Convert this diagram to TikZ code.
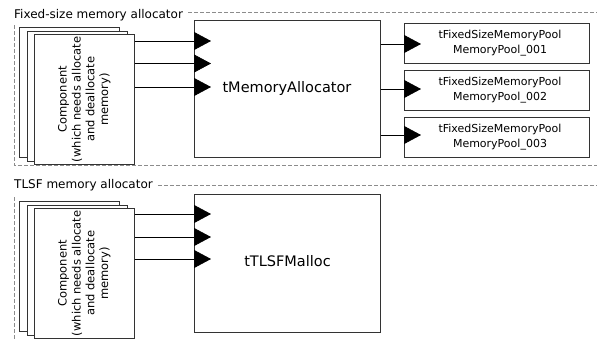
\documentclass[tikz,border=0pt]{standalone}
\usepackage{fontspec}
\setmainfont{DejaVu Sans}
\usetikzlibrary{arrows.meta}
\begin{document}
\begin{tikzpicture}[x=1pt,y=-1pt,
  frame/.style={draw=black!45,dash pattern=on 4pt off 2pt,line width=0.8pt},
  grplabel/.style={anchor=west,inner sep=0pt,font=\fontsize{12}{14}\selectfont},
  box/.style={draw=black!80,fill=white,line width=0.7pt,inner sep=0pt},
  port/.style={draw=black,line width=0.7pt,-{Triangle[length=17pt,width=18pt]}},
  comptext/.style={rotate=90,align=center,font=\fontsize{11.5}{13.8}\selectfont,inner sep=0pt},
  pooltext/.style={align=center,font=\fontsize{11}{15}\selectfont,inner sep=0pt},
  maintext/.style={font=\fontsize{14.5}{17}\selectfont,inner sep=0pt}
]
\useasboundingbox[fill=white] (0,0) rectangle (597,340);

% ---------- Fixed-size group ----------
\node[grplabel] (lab1) at (14,15) {Fixed-size memory allocator};
\coordinate (f1tr) at (597,12);
\coordinate (f1bl) at (14,165);
\coordinate (f1br) at (597,165);
\draw[frame] ([xshift=5pt]lab1.east |- f1tr) -- (f1tr);
\draw[frame] (14,25) -- (f1bl) -- (f1br);

\node[box,minimum width=100pt,minimum height=130pt,anchor=north west] (c1b) at (19,27) {};
\node[box,minimum width=100pt,minimum height=130pt,anchor=north west] (c1m) at (26.5,30.5) {};
\node[box,minimum width=100pt,minimum height=130pt,anchor=north west] (c1f) at (34,34) {};
\node[comptext] (c1t) at (c1f.center) {Component\\(which needs allocate\\and deallocate\\memory)};

\node[box,minimum width=186pt,minimum height=137pt,anchor=north west] (alloc) at (194,20) {};
\node[maintext] (alloct) at (287,88) {tMemoryAllocator};

\node[box,minimum width=185pt,minimum height=40pt,anchor=north west] (pool1) at (404,23) {};
\node[box,minimum width=185pt,minimum height=40pt,anchor=north west] (pool2) at (404,70) {};
\node[box,minimum width=185pt,minimum height=40pt,anchor=north west] (pool3) at (404,117) {};
\node[pooltext] (pt1) at (500,43) {tFixedSizeMemoryPool\\MemoryPool\_001};
\node[pooltext] (pt2) at (500,90) {tFixedSizeMemoryPool\\MemoryPool\_002};
\node[pooltext] (pt3) at (500,137) {tFixedSizeMemoryPool\\MemoryPool\_003};

\coordinate (a1) at (211,41);
\coordinate (a2) at (211,63.5);
\coordinate (a3) at (211,87);
\draw[port] (c1f.east |- a1) -- (a1);
\draw[port] (c1f.east |- a2) -- (a2);
\draw[port] (c1f.east |- a3) -- (a3);

\coordinate (q1) at (421,44);
\coordinate (q2) at (421,89);
\coordinate (q3) at (421,135);
\draw[port] (alloc.east |- q1) -- (q1);
\draw[port] (alloc.east |- q2) -- (q2);
\draw[port] (alloc.east |- q3) -- (q3);

% ---------- TLSF group ----------
\node[grplabel] (lab2) at (14,185) {TLSF memory allocator};
\coordinate (f2tr) at (597,185);
\coordinate (f2bl) at (14,340);
\draw[frame] ([xshift=5pt]lab2.east |- f2tr) -- (f2tr);
\draw[frame] (14,197) -- (f2bl);

\node[box,minimum width=100pt,minimum height=130pt,anchor=north west] (c2b) at (19,201) {};
\node[box,minimum width=100pt,minimum height=130pt,anchor=north west] (c2m) at (26.5,204.5) {};
\node[box,minimum width=100pt,minimum height=130pt,anchor=north west] (c2f) at (34,208) {};
\node[comptext] (c2t) at (c2f.center) {Component\\(which needs allocate\\and deallocate\\memory)};

\node[box,minimum width=186pt,minimum height=138pt,anchor=north west] (tlsf) at (194,194) {};
\node[maintext] (tlsft) at (287.5,261) {tTLSFMalloc};

\coordinate (b1) at (211,214);
\coordinate (b2) at (211,237);
\coordinate (b3) at (211,259);
\draw[port] (c2f.east |- b1) -- (b1);
\draw[port] (c2f.east |- b2) -- (b2);
\draw[port] (c2f.east |- b3) -- (b3);
\end{tikzpicture}
\end{document}
